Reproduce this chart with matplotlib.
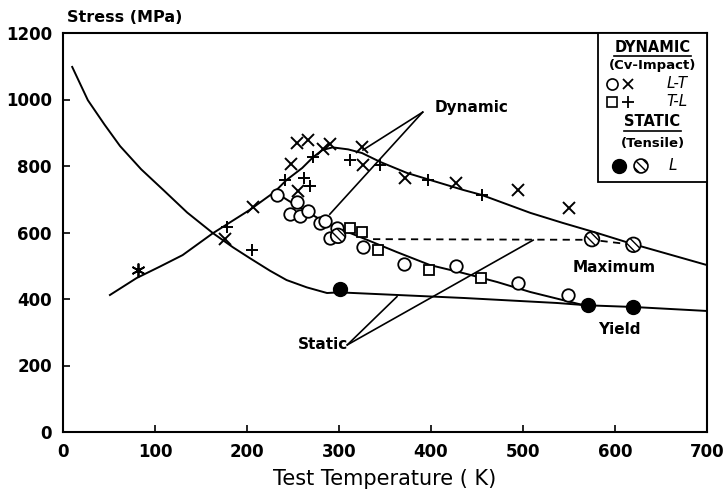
import matplotlib
matplotlib.use("Agg")
import matplotlib.pyplot as plt
from matplotlib.lines import Line2D
from matplotlib.patches import Rectangle

plt.rcParams['font.family'] = ['DejaVu Sans']
plt.rcParams['hatch.linewidth'] = 1.0

# static yield curve (falls steeply at low T, then nearly flat)
yield_T = [10, 27, 45, 62, 85, 109, 135, 163, 185, 203, 225, 243, 265, 287,
           300, 436, 537, 570, 620, 700]
yield_S = [1098, 998, 925, 860, 790, 728, 660, 598, 555, 523, 485, 457, 435, 418,
           420, 403, 388, 381, 376, 364]

# dynamic curve: rise, peak near room temperature, then decline (maximum)
dyn_T = [51, 80, 105, 130, 163, 203, 230, 243, 260, 272, 282, 293, 310, 325, 345, 374,
         399, 435, 455, 508, 543, 580, 616, 700]
dyn_S = [412, 463, 497, 532, 598, 668, 722, 758, 794, 827, 848, 856, 850, 839, 812, 779,
         758, 728, 713, 659, 629, 599, 568, 502]

# dynamic lower branch (yield) joining the static yield curve
dyn_low_T = [230, 249, 271, 290, 326, 363, 399, 435, 472, 508, 543, 565]
dyn_low_S = [722, 689, 653, 623, 583, 541, 502, 478, 451, 421, 397, 382]

# static maximum stress (dashed)
max_T = [337, 575, 620]
max_S = [580, 578, 563]

# Cv-impact data, L-T orientation
lt_circ_T = [233, 254, 247, 258, 266, 279, 285, 290, 298, 326, 371, 427, 495, 549]
lt_circ_S = [713, 692, 656, 650, 665, 630, 636, 583, 615, 556, 505, 499, 448, 412]
lt_x_T = [176, 207, 248, 254, 266, 255, 283, 290, 325, 326, 372, 427, 495, 550]
lt_x_S = [580, 677, 806, 869, 878, 725, 850, 866, 857, 803, 764, 749, 728, 674]

# Cv-impact data, T-L orientation
tl_sq_T = [312, 325, 342, 398, 454]
tl_sq_S = [615, 602, 547, 487, 463]
tl_plus_T = [178, 205, 241, 262, 268, 272, 312, 345, 397, 455]
tl_plus_S = [617, 547, 758, 765, 740, 827, 818, 803, 758, 713]

# static tensile, L orientation
ten_yield_T = [301, 571, 620]
ten_yield_S = [430, 382, 376]
ten_max_T = [299, 575, 620]
ten_max_S = [590, 580, 563]

star_T = [82]
star_S = [487]

# leader lines for the curve labels
dyn_lead_T = [[391, 326], [391, 290]]
dyn_lead_S = [[962, 848], [962, 655]]
sta_lead_T = [[309, 363], [309, 511]]
sta_lead_S = [[262, 407], [262, 577]]

W, H = 728, 503
fig = plt.figure(figsize=(W / 100, H / 100), dpi=100)
ax = fig.add_axes([63 / W, 71 / H, 644 / W, 399 / H])

lw = 1.4
ax.plot(yield_T, yield_S, color='black', lw=lw)
ax.plot(dyn_T, dyn_S, color='black', lw=lw)
ax.plot(dyn_low_T, dyn_low_S, color='black', lw=lw)
ax.plot(max_T, max_S, color='black', lw=1.3, ls=(0, (4, 3)))

for xs, ys in zip(dyn_lead_T + sta_lead_T, dyn_lead_S + sta_lead_S):
    ax.plot(xs, ys, color='black', lw=1.2)

ax.plot(lt_circ_T, lt_circ_S, 'o', ms=9, mfc='white', mec='black', mew=1.3, ls='none')
ax.plot(tl_sq_T, tl_sq_S, 's', ms=7.5, mfc='white', mec='black', mew=1.3, ls='none')
ax.plot(lt_x_T, lt_x_S, 'x', ms=8, mec='black', mew=1.4, ls='none')
ax.plot(tl_plus_T, tl_plus_S, '+', ms=9, mec='black', mew=1.4, ls='none')
ax.plot(star_T, star_S, marker=(6, 2, 0), ms=10, mec='black', mew=1.3, ls='none')
ax.plot(ten_yield_T, ten_yield_S, 'o', ms=10, mfc='black', mec='black', ls='none')
ax.scatter(ten_max_T, ten_max_S, s=110, facecolors='white', edgecolors='black',
           hatch='\\\\\\\\', linewidths=1.3, zorder=3)

lab = dict(fontsize=11, fontweight='bold', color='black')
ax.text(404, 976, 'Dynamic', ha='left', va='center', **lab)
ax.text(310, 262, 'Static', ha='right', va='center', **lab)
ax.text(599, 496, 'Maximum', ha='center', va='center', **lab)
ax.text(605, 307, 'Yield', ha='center', va='center', **lab)

ax.set_xlim(0, 700)
ax.set_ylim(0, 1200)
ax.set_xticks(range(0, 701, 100))
ax.set_yticks(range(0, 1201, 200))
ax.tick_params(direction='in', length=5, width=1.2, top=False, right=False,
               labelsize=12, pad=8)
for t in ax.get_xticklabels() + ax.get_yticklabels():
    t.set_fontweight('bold')
for s in ax.spines.values():
    s.set_linewidth(1.5)

ax.set_xlabel('Test Temperature ( K)', fontsize=15, labelpad=6)
fig.text(67 / W, 1 - 17 / H, 'Stress (MPa)', fontsize=11.5, fontweight='bold',
         ha='left', va='center')


# legend box drawn in pixel space of the axes
def ax_frac(px, py):
    return (px - 63) / 644, (432 - py) / 399


x0, y0 = ax_frac(598, 182)
x1, y1 = ax_frac(707, 33)
ax.add_patch(Rectangle((x0, y0), x1 - x0, y1 - y0, transform=ax.transAxes,
                       fill=True, facecolor='white', edgecolor='black', lw=1.3,
                       zorder=5, clip_on=False))

cx = (598 + 707) / 2
heads = []
for txt, py in [('DYNAMIC', 47), ('(Cv-Impact)', 66),
                ('STATIC', 122), ('(Tensile)', 143)]:
    fx, fy = ax_frac(cx, py)
    t = ax.text(fx, fy, txt, transform=ax.transAxes, ha='center', va='center',
                fontsize=10.5 if txt.isupper() else 9.5, fontweight='bold', zorder=6)
    if txt.isupper():
        heads.append(t)

mk = dict(transform=ax.transAxes, ls='none', zorder=6, clip_on=False)
ax.plot(*ax_frac(612, 84), 'o', ms=8, mfc='white', mec='black', mew=1.2, **mk)
ax.plot(*ax_frac(628, 84), 'x', ms=7, mec='black', mew=1.3, **mk)
ax.plot(*ax_frac(612, 102), 's', ms=6.5, mfc='white', mec='black', mew=1.2, **mk)
ax.plot(*ax_frac(628, 102), '+', ms=8, mec='black', mew=1.3, **mk)
ax.plot(*ax_frac(619, 166), 'o', ms=10, mfc='black', mec='black', **mk)
ax.scatter(*ax_frac(641, 166), s=100, facecolors='white', edgecolors='black',
           hatch='\\\\\\\\', linewidths=1.2, transform=ax.transAxes, zorder=6,
           clip_on=False)
it = dict(transform=ax.transAxes, ha='center', va='center', fontsize=11,
          fontstyle='italic', zorder=6)
ax.text(*ax_frac(677, 84), 'L-T', **it)
ax.text(*ax_frac(677, 102), 'T-L', **it)
ax.text(*ax_frac(673, 166), 'L', **it)

# underline the legend headings
fig.canvas.draw()
inv = fig.transFigure.inverted()
for t in heads:
    bb = t.get_window_extent().transformed(inv)
    fig.add_artist(Line2D([bb.x0, bb.x1], [bb.y0 - 0.002, bb.y0 - 0.002],
                          color='black', lw=1.2, zorder=7))

fig.savefig('out.png', dpi=100)
